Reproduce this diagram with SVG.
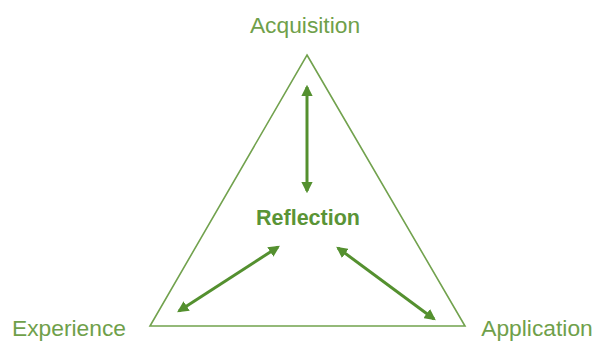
<svg xmlns="http://www.w3.org/2000/svg" width="594" height="342" viewBox="0 0 594 342">
<defs>
<style>
.lbl{font-family:"Liberation Sans",Arial,sans-serif;font-size:22.8px;fill:#6fa04a;text-anchor:middle}
.ctr{font-family:"Liberation Sans",Arial,sans-serif;font-size:21.5px;font-weight:bold;fill:#5a9436;text-anchor:middle}
.tri{fill:none;stroke:#72a24e;stroke-width:1.6}
.arr{stroke:#54902f;stroke-width:3;fill:none;marker-start:url(#ah);marker-end:url(#ah)}
</style>
<marker id="ah" viewBox="0 0 10 10" refX="8" refY="5" markerWidth="3.8" markerHeight="3.8" orient="auto-start-reverse" markerUnits="strokeWidth">
<path d="M0,0 L10,5 L0,10 Z" fill="#54902f"/>
</marker>
</defs>
<rect width="594" height="342" fill="#ffffff"/>
<g id="triangle"><path class="tri" d="M307,55 L465,326 L150,326 Z"/></g>
<g id="acquisition"><text class="lbl" x="305" y="33">Acquisition</text></g>
<g id="experience"><text class="lbl" x="69" y="336">Experience</text></g>
<g id="application"><text class="lbl" x="537" y="336">Application</text></g>
<g id="reflection"><text class="ctr" x="308" y="225">Reflection</text></g>
<g id="connectors">
<line class="arr" x1="307" y1="87" x2="307" y2="191"/>
<line class="arr" x1="179" y1="311" x2="278" y2="247"/>
<line class="arr" x1="338" y1="248" x2="434" y2="319"/>
</g>
</svg>
